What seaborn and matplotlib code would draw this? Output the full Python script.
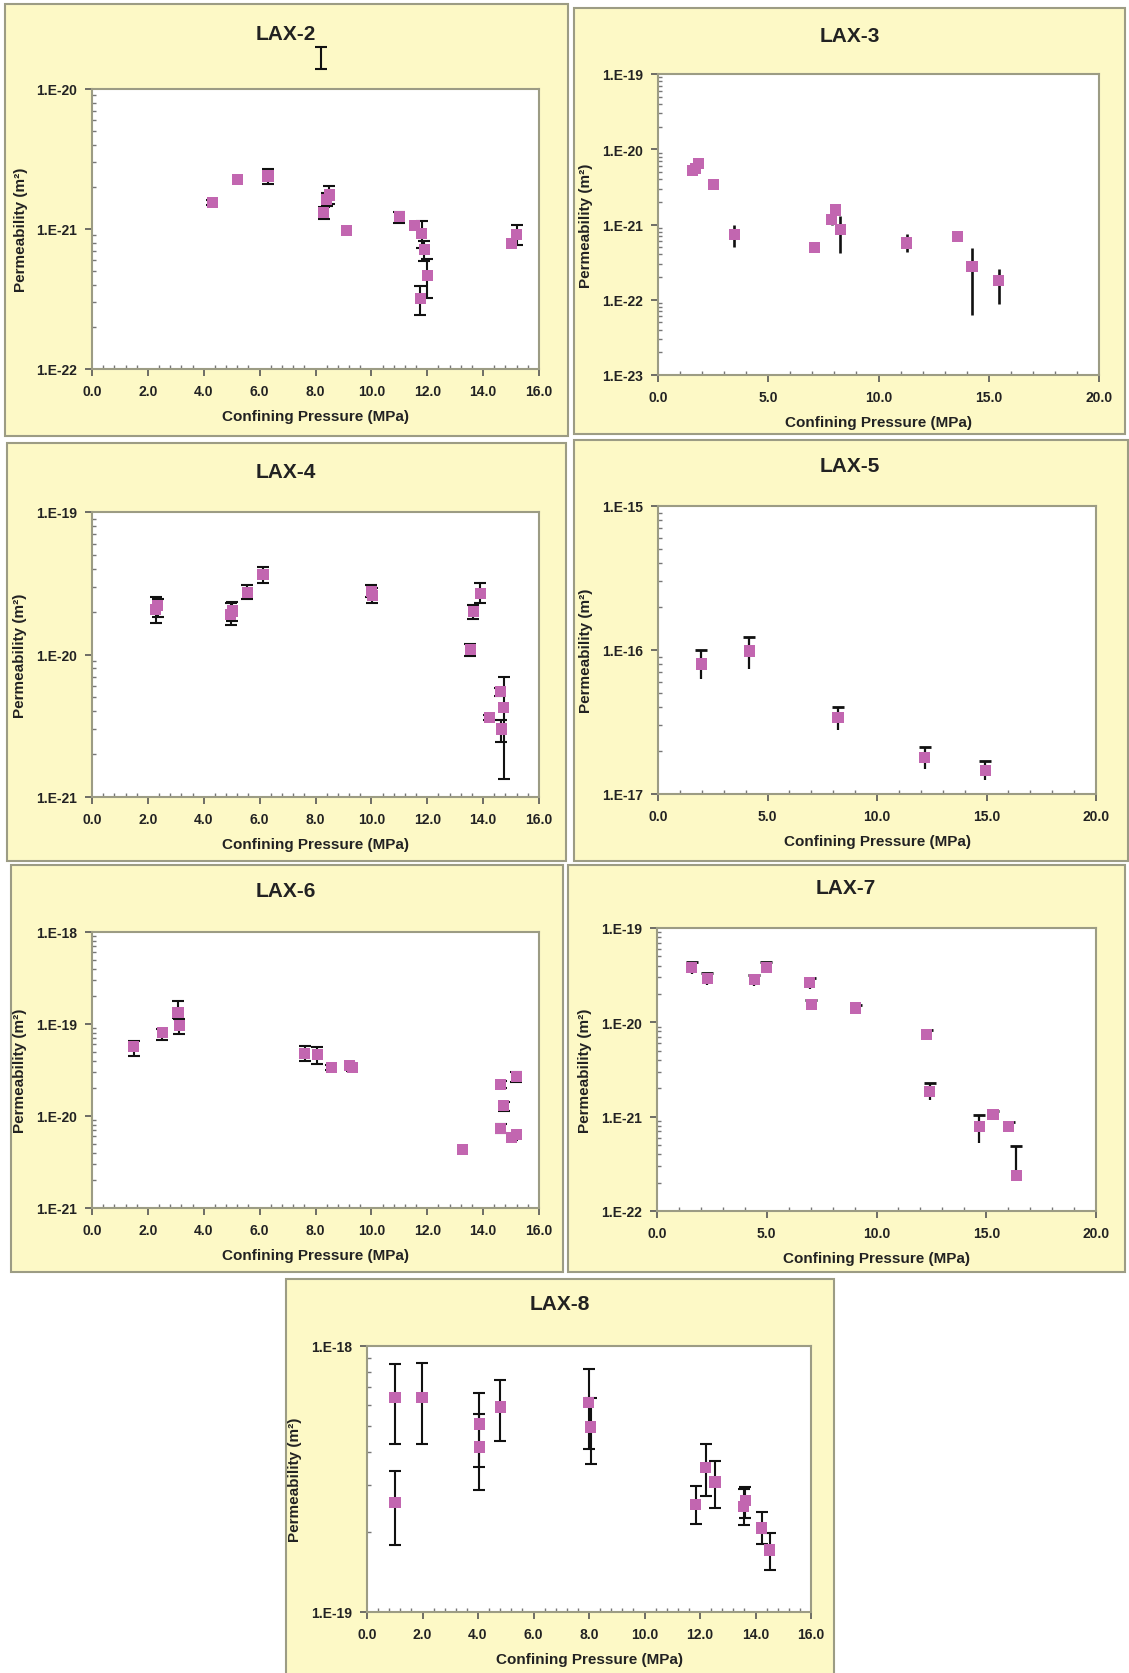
import numpy as np
import matplotlib
matplotlib.use("Agg")
import matplotlib.pyplot as plt
import seaborn as sns
from matplotlib.patches import Rectangle
from matplotlib.ticker import FixedLocator, FuncFormatter, NullFormatter

nan = np.nan

# ---- data: confining pressure (MPa), permeability (m^2), error bar low / high ----
lax2_p = [4.3, 5.2, 6.3, 8.3, 8.4, 8.5, 9.1, 11.0, 11.55, 11.8, 11.9, 11.75, 12.0, 15.0, 15.2]
lax2_k = [1.55e-21, 2.26e-21, 2.39e-21, 1.32e-21, 1.63e-21, 1.75e-21, 0.98e-21, 1.23e-21, 1.06e-21,
          0.93e-21, 0.71e-21, 0.32e-21, 0.466e-21, 0.79e-21, 0.92e-21]
lax2_lo = [1.48e-21, nan, 2.11e-21, 1.18e-21, 1.45e-21, 1.51e-21, nan, 1.11e-21, nan,
           0.73e-21, 0.59e-21, 0.245e-21, 0.32e-21, nan, 0.77e-21]
lax2_hi = [1.62e-21, nan, 2.67e-21, 1.44e-21, 1.80e-21, 2.04e-21, nan, 1.32e-21, nan,
           1.14e-21, 0.82e-21, 0.39e-21, 0.61e-21, nan, 1.07e-21]
# error bar of an off-scale point, left visible above the LAX-2 plot
lax2_stray_p = [8.2]
lax2_stray_k = [1.65e-20]
lax2_stray_lo = [1.39e-20]
lax2_stray_hi = [1.98e-20]

lax3_p = [1.55, 1.7, 1.85, 2.5, 3.45, 7.08, 7.87, 8.03, 8.26, 11.27, 13.6, 14.24, 15.45]
lax3_k = [5.26e-21, 5.6e-21, 6.5e-21, 3.4e-21, 0.746e-21, 0.50e-21, 1.17e-21, 1.56e-21, 0.86e-21,
          0.567e-21, 0.70e-21, 0.273e-21, 0.178e-21]
lax3_lo = [4.5e-21, 5.0e-21, 5.6e-21, nan, 0.51e-21, nan, 1.0e-21, 1.35e-21, 0.42e-21,
           0.43e-21, nan, 0.063e-21, 0.088e-21]
lax3_hi = [6.0e-21, 6.4e-21, 7.5e-21, nan, 1.0e-21, nan, 1.35e-21, 1.85e-21, 1.3e-21,
           0.75e-21, nan, 0.49e-21, 0.255e-21]

lax4_p = [2.28, 2.36, 4.97, 5.02, 5.56, 6.12, 10.0, 10.04, 13.54, 13.65, 13.9, 14.22, 14.62, 14.65, 14.73]
lax4_k = [2.07e-20, 2.22e-20, 1.90e-20, 2.02e-20, 2.72e-20, 3.62e-20, 2.78e-20, 2.61e-20, 1.08e-20,
          1.99e-20, 2.67e-20, 0.36e-20, 0.547e-20, 0.30e-20, 0.425e-20]
lax4_lo = [1.66e-20, 1.83e-20, 1.60e-20, 1.73e-20, 2.45e-20, 3.18e-20, 2.55e-20, 2.30e-20, 0.98e-20,
           1.78e-20, 2.28e-20, 0.347e-20, 0.51e-20, 0.245e-20, 0.133e-20]
lax4_hi = [2.52e-20, 2.47e-20, 2.30e-20, 2.35e-20, 3.06e-20, 4.12e-20, 3.06e-20, 2.93e-20, 1.19e-20,
           2.22e-20, 3.15e-20, 0.375e-20, 0.58e-20, 0.346e-20, 0.70e-20]

lax5_p = [1.97, 4.16, 8.22, 12.17, 14.94]
lax5_k = [8.0e-17, 9.85e-17, 3.38e-17, 1.79e-17, 1.46e-17]
lax5_lo = [6.24e-17, 7.4e-17, 2.79e-17, 1.5e-17, 1.25e-17]
lax5_hi = [1.0e-16, 1.24e-16, 4.05e-17, 2.11e-17, 1.69e-17]

lax6_p = [1.49, 2.52, 3.08, 3.13, 7.61, 8.07, 8.57, 9.22, 9.31, 13.26, 14.63, 14.73, 14.63, 15.02, 15.19, 15.19]
lax6_k = [5.66e-20, 8.03e-20, 13.3e-20, 9.7e-20, 4.8e-20, 4.7e-20, 3.38e-20, 3.55e-20, 3.4e-20,
          0.43e-20, 2.21e-20, 1.30e-20, 0.737e-20, 0.589e-20, 0.635e-20, 2.70e-20]
lax6_lo = [4.49e-20, 6.7e-20, 11.5e-20, 7.7e-20, 4.0e-20, 3.7e-20, 3.15e-20, 3.3e-20, 3.1e-20,
           nan, 2.0e-20, 1.12e-20, 0.66e-20, 0.55e-20, nan, 2.35e-20]
lax6_hi = [6.6e-20, 8.8e-20, 17.7e-20, 11.3e-20, 5.8e-20, 5.6e-20, 3.62e-20, 3.8e-20, 3.7e-20,
           nan, 2.4e-20, 1.42e-20, 0.81e-20, 0.63e-20, nan, 3.0e-20]

lax7_p = [1.58, 2.29, 4.44, 4.98, 6.96, 7.02, 9.06, 12.28, 12.42, 14.69, 15.31, 16.02, 16.36]
lax7_k = [3.83e-20, 2.93e-20, 2.86e-20, 3.83e-20, 2.64e-20, 1.54e-20, 1.42e-20, 7.42e-21, 1.86e-21,
          7.94e-22, 1.06e-21, 7.8e-22, 2.37e-22]
lax7_lo = [3.23e-20, 2.5e-20, 2.45e-20, 3.3e-20, 2.26e-20, 1.36e-20, 1.27e-20, 6.7e-21, 1.5e-21,
           5.2e-22, 1.0e-21, 6.9e-22, 2.37e-22]
lax7_hi = [4.33e-20, 3.3e-20, 3.2e-20, 4.4e-20, 2.98e-20, 1.72e-20, 1.52e-20, 8.3e-21, 2.26e-21,
           1.04e-21, 1.15e-21, 8.7e-22, 4.9e-22]

lax8_p = [1.01, 1.01, 1.98, 4.04, 4.04, 4.81, 7.99, 8.07, 11.85, 12.2, 12.54, 13.58, 13.63, 14.22, 14.51]
lax8_k = [6.41e-19, 2.58e-19, 6.41e-19, 5.09e-19, 4.17e-19, 5.9e-19, 6.12e-19, 4.96e-19, 2.53e-19,
          3.48e-19, 3.08e-19, 2.50e-19, 2.62e-19, 2.07e-19, 1.71e-19]
lax8_lo = [4.27e-19, 1.78e-19, 4.27e-19, 3.5e-19, 2.88e-19, 4.38e-19, 4.1e-19, 3.61e-19, 2.14e-19,
           2.73e-19, 2.45e-19, 2.13e-19, 2.25e-19, 1.80e-19, 1.44e-19]
lax8_hi = [8.57e-19, 3.38e-19, 8.64e-19, 6.67e-19, 5.54e-19, 7.46e-19, 8.2e-19, 6.4e-19, 2.97e-19,
           4.28e-19, 3.7e-19, 2.90e-19, 2.96e-19, 2.37e-19, 1.98e-19]

titles = ["LAX-2", "LAX-3", "LAX-4", "LAX-5", "LAX-6", "LAX-7", "LAX-8"]
series = [(lax2_p, lax2_k, lax2_lo, lax2_hi), (lax3_p, lax3_k, lax3_lo, lax3_hi),
          (lax4_p, lax4_k, lax4_lo, lax4_hi), (lax5_p, lax5_k, lax5_lo, lax5_hi),
          (lax6_p, lax6_k, lax6_lo, lax6_hi), (lax7_p, lax7_k, lax7_lo, lax7_hi),
          (lax8_p, lax8_k, lax8_lo, lax8_hi)]

# ---- layout (pixels of the 1129x1674 picture) ----
W, H = 1129, 1674
# box (l, t, r, b), axes (l, t, r, b), title (x, y), x max, decade range, caps
layout = [
    dict(box=(5, 5, 568, 437), ax=(92, 90, 539, 370), title=(286, 34), xmax=16, dec=(-22, -20), caps="both"),
    dict(box=(574, 9, 1125, 435), ax=(658, 75, 1099, 376), title=(850, 36), xmax=20, dec=(-23, -19), caps="none"),
    dict(box=(7, 444, 566, 862), ax=(92, 513, 539, 798), title=(286, 472), xmax=16, dec=(-21, -19), caps="both"),
    dict(box=(574, 441, 1128, 862), ax=(658, 507, 1096, 795), title=(850, 467), xmax=20, dec=(-17, -15), caps="top"),
    dict(box=(11, 866, 563, 1273), ax=(92, 933, 539, 1209), title=(286, 892), xmax=16, dec=(-21, -18), caps="both"),
    dict(box=(568, 866, 1125, 1273), ax=(657, 929, 1096, 1212), title=(846, 889), xmax=20, dec=(-22, -19), caps="top"),
    dict(box=(286, 1280, 834, 1680), ax=(367, 1347, 811, 1613), title=(560, 1305), xmax=16, dec=(-19, -18), caps="both"),
]

sns.set_style("white")
plt.rcParams['font.family'] = ['Liberation Sans', 'DejaVu Sans']

pink = "#c266b0"
yellow = "#fdf9c6"
frame = "#9c9c84"

fig = plt.figure(figsize=(W / 100, H / 100), dpi=100)
fig.patch.set_facecolor("white")


def frac(l, t, r, b):
    return [l / W, 1 - b / H, (r - l) / W, (b - t) / H]


def decade_fmt(v, _):
    return "1.E%d" % int(round(np.log10(v)))


axes = []
for name, (p, k, lo, hi), lay in zip(titles, series, layout):
    bl, bt, br, bb = lay["box"]
    fig.patches.append(Rectangle((bl / W, 1 - bb / H), (br - bl) / W, (bb - bt) / H,
                                 transform=fig.transFigure, facecolor=yellow,
                                 edgecolor=frame, linewidth=1.5, zorder=-5))
    fig.text(lay["title"][0] / W, 1 - lay["title"][1] / H, name, ha="center", va="center",
             fontsize=15, fontweight="bold", color="#222222")

    d0, d1 = lay["dec"]
    xmax = lay["xmax"]
    ax = fig.add_axes(frac(*lay["ax"]))
    ax.set_zorder(5)
    ax.set_facecolor("white")
    ax.set_yscale("log")
    ax.set_xlim(0, xmax)
    ax.set_ylim(10.0 ** d0, 10.0 ** d1)

    p, k, lo, hi = map(np.asarray, (p, k, lo, hi))
    m = ~np.isnan(lo)
    yerr = [k[m] - lo[m], hi[m] - k[m]]
    if lay["caps"] == "both":
        ax.errorbar(p[m], k[m], yerr=yerr, fmt="none", ecolor="#111111", elinewidth=1.5,
                    capsize=4, capthick=1.5, zorder=2)
    elif lay["caps"] == "top":
        ax.errorbar(p[m], k[m], yerr=yerr, fmt="none", ecolor="#111111", elinewidth=1.6,
                    capsize=0, zorder=2)
        ax.plot(p[m], hi[m], ls="none", marker="_", ms=9, mew=2, color="#111111", zorder=2)
    else:
        ax.errorbar(p[m], k[m], yerr=yerr, fmt="none", ecolor="#111111", elinewidth=1.9,
                    capsize=0, zorder=2)

    sns.scatterplot(x=p, y=k, ax=ax, marker="s", s=64, color=pink, edgecolor="none",
                    zorder=3, legend=False)

    for s in ax.spines.values():
        s.set_color(frame)
        s.set_linewidth(1.5)

    step = 2 if xmax == 16 else 5
    mstep = 0.4 if xmax == 16 else 1
    ax.xaxis.set_major_locator(FixedLocator(np.arange(0, xmax + 0.01, step)))
    ax.xaxis.set_minor_locator(FixedLocator(np.arange(0, xmax + 0.01, mstep)))
    ax.xaxis.set_major_formatter(FuncFormatter(lambda v, _: "%.1f" % v))
    ax.xaxis.set_minor_formatter(NullFormatter())
    ax.yaxis.set_major_locator(FixedLocator([10.0 ** e for e in range(d0, d1 + 1)]))
    ax.yaxis.set_minor_locator(FixedLocator([s * 10.0 ** e for e in range(d0, d1) for s in range(2, 10)]))
    ax.yaxis.set_major_formatter(FuncFormatter(decade_fmt))
    ax.yaxis.set_minor_formatter(NullFormatter())
    ax.tick_params(which="major", direction="out", length=5, width=1.2, color="#555555",
                   labelsize=10, pad=6, bottom=True, left=True, top=False, right=False,
                   labelcolor="#222222")
    ax.tick_params(which="minor", direction="in", length=3, width=1, color="#777777",
                   bottom=True, left=True, top=False, right=False)
    for lab in ax.get_xticklabels() + ax.get_yticklabels():
        lab.set_fontweight("bold")

    ax.set_xlabel("Confining Pressure (MPa)", fontsize=11, fontweight="bold", labelpad=8,
                  color="#222222")
    ax.set_ylabel("Permeability (m²)", fontsize=11, fontweight="bold", labelpad=6,
                  color="#222222")
    axes.append(ax)

# off-scale error bar above LAX-2
sp, sk = np.asarray(lax2_stray_p), np.asarray(lax2_stray_k)
eb = axes[0].errorbar(sp, sk, yerr=[sk - np.asarray(lax2_stray_lo), np.asarray(lax2_stray_hi) - sk],
                      fmt="none", ecolor="#111111", elinewidth=1.5, capsize=4, capthick=1.5)
for art in list(eb.lines[1]) + list(eb.lines[2]):
    art.set_clip_on(False)

fig.savefig("out.png", dpi=100)
